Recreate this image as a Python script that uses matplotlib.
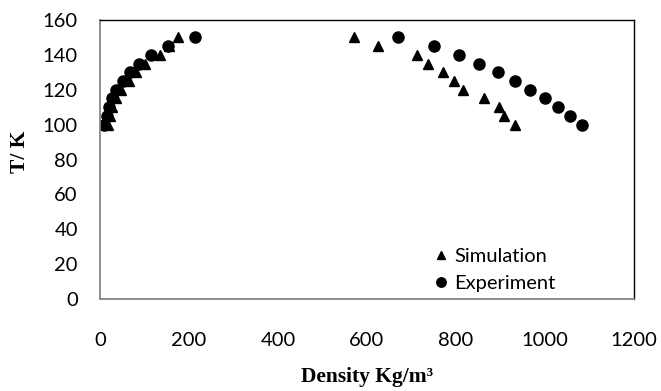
import matplotlib
matplotlib.use("Agg")
import matplotlib.pyplot as plt

# temperatures (K) for each branch, 100 -> 150 step 5
temps = [100, 105, 110, 115, 120, 125, 130, 135, 140, 145, 150]

# simulation densities (kg/m3): vapour and liquid branches
sim_vapour = [18, 22, 28, 36, 48, 65, 80, 100, 135, 155, 176]
sim_liquid = [932, 908, 896, 862, 815, 795, 772, 738, 712, 625, 570]

# experimental densities (kg/m3)
exp_vapour = [10, 16, 21, 27, 37, 51, 67, 88, 114, 153, 213]
exp_liquid = [1084, 1056, 1029, 1000, 967, 932, 894, 852, 806, 750, 670]

xticks = [0, 200, 400, 600, 800, 1000, 1200]
yticks = [0, 20, 40, 60, 80, 100, 120, 140, 160]

fig = plt.figure(figsize=(6.61, 3.91), dpi=100)
ax = fig.add_axes([0.1513, 0.2353, 0.8077, 0.7135])

ax.plot(sim_vapour + sim_liquid, temps + temps, linestyle='none', marker='^',
        color='black', markersize=7.5, label='Simulation')
ax.plot(exp_vapour + exp_liquid, temps + temps, linestyle='none', marker='o',
        color='black', markersize=8, label='Experiment')

ax.set_xlim(0, 1200)
ax.set_ylim(0, 160)
ax.set_xticks(xticks)
ax.set_yticks(yticks)

tick_font = 'Lato'
ax.tick_params(length=0, labelsize=14.5)
ax.tick_params(axis='x', pad=24)
ax.tick_params(axis='y', pad=16)
for lbl in ax.get_xticklabels() + ax.get_yticklabels():
    lbl.set_fontfamily(tick_font)

for side in ['left', 'bottom']:
    ax.spines[side].set_color('#868686')
    ax.spines[side].set_linewidth(1.3)
for side in ['top', 'right']:
    ax.spines[side].set_color('black')
    ax.spines[side].set_linewidth(1.0)

ax.set_xlabel('Density Kg/m³', fontfamily='Liberation Serif',
              fontweight='bold', fontsize=15.5)
ax.set_ylabel('T/ K', fontfamily='Liberation Serif', fontweight='bold',
              fontsize=15.5)
ax.xaxis.set_label_coords(0.5, -0.245)
ax.yaxis.set_label_coords(-0.131, 0.527)

ax.legend(loc='upper left', bbox_to_anchor=(0.628, 0.182), frameon=False,
          handlelength=0.6, handletextpad=0.35, borderaxespad=0,
          borderpad=0, labelspacing=0.5, markerscale=0.85,
          prop={'family': tick_font, 'size': 14.5})

fig.savefig('out.png', dpi=100)
